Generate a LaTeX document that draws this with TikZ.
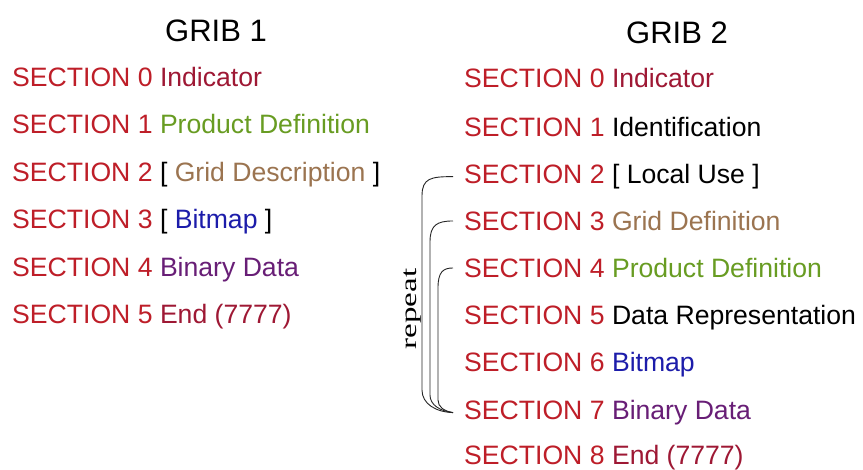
\documentclass[tikz,border=0pt]{standalone}
\usepackage{fontspec}
\setmainfont{Liberation Sans}
\newfontfamily\serifrm{Liberation Serif}
\definecolor{secred}{RGB}{190,30,40}
\definecolor{crimson}{RGB}{158,24,52}
\definecolor{prodgreen}{RGB}{104,156,34}
\definecolor{gridbrown}{RGB}{155,116,80}
\definecolor{bmblue}{RGB}{28,28,170}
\definecolor{binpurple}{RGB}{104,30,118}
\newcommand{\mysec}[1]{\textcolor{secred}{SECTION #1}}
\begin{document}
\begin{tikzpicture}[x=1pt,y=-1pt,
  sec/.style={anchor=base west,inner sep=0pt,font=\fontsize{26.6}{30}\selectfont},
  title/.style={anchor=base,inner sep=0pt,font=\fontsize{31}{34}\selectfont},
  brk/.style={draw=black!85,line width=0.9pt}]
\path[use as bounding box,fill=white] (0,0) rectangle (863,470);
% titles
\node[title] (g1) at (216,42) {GRIB 1};
\node[title] (g2) at (677,44) {GRIB 2};
% GRIB 1
\node[sec] (l0) at (12,86.5) {\mysec{0} \textcolor{crimson}{Indicator}};
\node[sec] (l1) at (12,133.5) {\mysec{1} \textcolor{prodgreen}{Product Definition}};
\node[sec] (l2) at (12,181.5) {\mysec{2} [ \textcolor{gridbrown}{Grid Description} ]};
\node[sec] (l3) at (12,228.5) {\mysec{3} [ \textcolor{bmblue}{Bitmap} ]};
\node[sec] (l4) at (12,276.5) {\mysec{4} \textcolor{binpurple}{Binary Data}};
\node[sec] (l5) at (12,323.5) {\mysec{5} \textcolor{crimson}{End (7777)}};
% GRIB 2
\node[sec] (r0) at (464,87.5) {\mysec{0} \textcolor{crimson}{Indicator}};
\node[sec] (r1) at (464,136.5) {\mysec{1} Identification};
\node[sec] (r2) at (464,183.5) {\mysec{2} [ Local Use ]};
\node[sec] (r3) at (464,230.5) {\mysec{3} \textcolor{gridbrown}{Grid Definition}};
\node[sec] (r4) at (464,277.5) {\mysec{4} \textcolor{prodgreen}{Product Definition}};
\node[sec] (r5) at (464,324.5) {\mysec{5} Data Representation};
\node[sec] (r6) at (464,371.5) {\mysec{6} \textcolor{bmblue}{Bitmap}};
\node[sec] (r7) at (464,419.5) {\mysec{7} \textcolor{binpurple}{Binary Data}};
\node[sec] (r8) at (464,464.5) {\mysec{8} \textcolor{crimson}{End (7777)}};
% bracket ends
\coordinate (a2) at ([xshift=-11pt]r2.west);
\coordinate (a3) at ([xshift=-11pt]r3.west);
\coordinate (a4) at ([xshift=-11pt]r4.west);
\coordinate (a7) at ([xshift=-11pt]r7.west);
\draw[brk] (a2) .. controls +(-22,0) and (422,178) .. (422,196) -- (422,390)
  .. controls (422,404) and (436,412) .. (a7);
\draw[brk] (a3) .. controls +(-16,0) and (430,225) .. (430,242) -- (430,395)
  .. controls (430,405) and (440,411) .. (a7);
\draw[brk] (a4) .. controls +(-10,0) and (438,272) .. (438,288) -- (438,400)
  .. controls (438,407) and (444,411) .. (a7);
% repeat label
\node[rotate=90,inner sep=0pt,font=\serifrm\fontsize{33}{36}\selectfont] (rep) at (413,309)
  {\scalebox{1}[0.68]{repeat}};
\end{tikzpicture}
\end{document}
